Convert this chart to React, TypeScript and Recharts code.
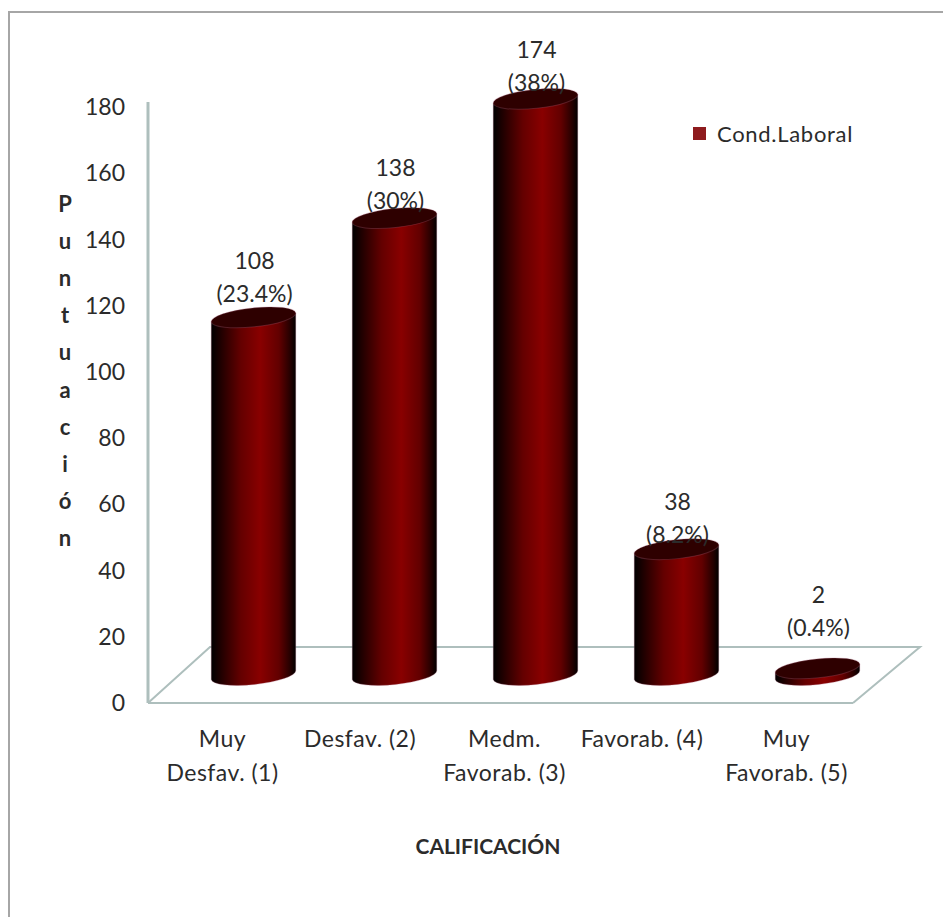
import React from "react";
import { BarChart, Bar, XAxis, YAxis, Legend, LabelList } from "recharts";

const categories = ["Muy Desfav. (1)", "Desfav. (2)", "Medm. Favorab. (3)", "Favorab. (4)", "Muy Favorab. (5)"];
const categoryLines = [["Muy", "Desfav. (1)"], ["Desfav. (2)"], ["Medm.", "Favorab. (3)"], ["Favorab. (4)"], ["Muy", "Favorab. (5)"]];
const puntuacion = [108, 138, 174, 38, 2];
const percents = ["23.4%", "30%", "38%", "8.2%", "0.4%"];
const yTicks = [0, 20, 40, 60, 80, 100, 120, 140, 160, 180];
const yTitle = ["P", "u", "n", "t", "u", "a", "c", "i", "ó", "n"];

const data = categories.map((name, i) => ({ name, value: puntuacion[i] }));

const WIDTH = 943;
const HEIGHT = 917;
const LEFT = 148;
const RIGHT = 853;
const TOP = 107;
const BOTTOM = 703;

// the 3D box: bars stand in the middle of the floor, the back edge sits further away
const DEPTH_X = 35;
const DEPTH_Y = 28;
const FONT = "Lato, 'Open Sans', sans-serif";
const TEXT = "#2b2b2b";
const WALL = "#aebfbd";
const TILT = 6;
const RY = 9.5;

// how far the percent line sits above each bar top
const labelLift = [24, 18, 17, 15, 41];

const Cylinder = (props: any) => {
  const { x, y, width, height } = props;
  const rx = width / 2;
  const cx = x + rx + DEPTH_X;
  const top = y - DEPTH_Y;
  const base = y + height - DEPTH_Y;
  const rad = (TILT * Math.PI) / 180;
  const dx = rx * Math.cos(rad);
  const dy = rx * Math.sin(rad);
  const side = `M ${cx - dx} ${top + dy} L ${cx - dx} ${base + dy} A ${rx} ${RY} ${-TILT} 0 0 ${cx + dx} ${base - dy} L ${cx + dx} ${top - dy} Z`;
  return (
    <g>
      <path d={side} fill="url(#cylinderSide)" stroke="#b06a80" strokeOpacity={0.3} strokeWidth={1} />
      <ellipse
        cx={cx}
        cy={top}
        rx={rx}
        ry={RY}
        fill="#2e0000"
        stroke="#a8607a"
        strokeOpacity={0.3}
        strokeWidth={1}
        transform={`rotate(${-TILT} ${cx} ${top})`}
      />
    </g>
  );
};

const BarLabel = (props: any) => {
  const { x, y, width, index } = props;
  const cx = x + width / 2 + DEPTH_X + 1;
  const lineY = y - DEPTH_Y - labelLift[index];
  return (
    <text x={cx} textAnchor="middle" fontFamily={FONT} fontSize={23} fill={TEXT} dominantBaseline="central">
      <tspan x={cx} y={lineY - 33}>{puntuacion[index]}</tspan>
      <tspan x={cx} y={lineY}>({percents[index]})</tspan>
    </text>
  );
};

const CategoryTick = (props: any) => {
  const { x, payload } = props;
  const lines = categoryLines[categories.indexOf(payload.value)] || [payload.value];
  // one-line categories sit a little further left than the wrapped ones
  const tx = lines.length === 1 ? x + 0.5 : x + 4;
  return (
    <text textAnchor="middle" fontFamily={FONT} fontSize={23} letterSpacing={0.5} fill={TEXT} dominantBaseline="central">
      {lines.map((line, i) => (
        <tspan key={i} x={tx} y={738 + i * 33.5}>{line}</tspan>
      ))}
    </text>
  );
};

const LegendBox = () => (
  <div style={{ display: "flex", alignItems: "center", fontFamily: FONT, fontSize: 22, color: TEXT }}>
    <span style={{ width: 13, height: 13, background: "#8e1b1e", marginRight: 11 }} />
    <span style={{ letterSpacing: 0.7 }}>Cond.Laboral</span>
  </div>
);

export default function App() {
  return (
    <div style={{ position: "absolute", left: 0, top: 0, width: WIDTH, height: HEIGHT, background: "#fff", overflow: "hidden" }}>
      {/* chart frame, cut off on the right and at the bottom */}
      <div
        style={{
          position: "absolute",
          left: 8,
          top: 11,
          width: WIDTH,
          height: HEIGHT,
          borderLeft: "2px solid #a6a6a6",
          borderTop: "2px solid #a6a6a6",
        }}
      />
      <div style={{ position: "absolute", left: 0, top: 0 }}>
        <BarChart
          width={WIDTH}
          height={HEIGHT}
          data={data}
          barSize={85}
          margin={{ top: TOP, right: WIDTH - RIGHT, bottom: 0, left: 0 }}
        >
          <defs>
            <linearGradient id="cylinderSide" x1="0" y1="0" x2="1" y2="0">
              <stop offset="0" stopColor="#000000" />
              <stop offset="0.1" stopColor="#1c0000" />
              <stop offset="0.35" stopColor="#640000" />
              <stop offset="0.58" stopColor="#890000" />
              <stop offset="0.8" stopColor="#620000" />
              <stop offset="0.94" stopColor="#220000" />
              <stop offset="1" stopColor="#000000" />
            </linearGradient>
          </defs>

          {/* floor and the stub of the wall above the last tick */}
          <polyline
            points={`${LEFT},${BOTTOM} ${LEFT + 62},${BOTTOM - 56} ${RIGHT + 67},${BOTTOM - 56} ${RIGHT},${BOTTOM}`}
            fill="none"
            stroke={WALL}
            strokeWidth={2}
          />
          <line x1={LEFT} y1={TOP - 5} x2={LEFT} y2={TOP} stroke={WALL} strokeWidth={3} />

          <XAxis
            dataKey="name"
            height={HEIGHT - BOTTOM}
            interval={0}
            tickLine={false}
            axisLine={{ stroke: WALL, strokeWidth: 2 }}
            tick={<CategoryTick />}
          />
          <YAxis
            width={LEFT}
            domain={[0, 180]}
            ticks={yTicks}
            tickLine={false}
            tickMargin={17}
            axisLine={{ stroke: WALL, strokeWidth: 3 }}
            tick={{ fontFamily: FONT, fontSize: 23, fill: TEXT }}
          />
          <Legend
            content={<LegendBox />}
            verticalAlign="middle"
            align="center"
            wrapperStyle={{ position: "absolute", left: 693, top: 120, width: 180, bottom: "auto" }}
          />
          <Bar dataKey="value" name="Cond.Laboral" fill="#8e1b1e" isAnimationActive={false} shape={<Cylinder />}>
            <LabelList dataKey="value" content={<BarLabel />} />
          </Bar>

          <text fontFamily={FONT} fontSize={22} fontWeight={700} fill={TEXT} textAnchor="middle" dominantBaseline="central">
            {yTitle.map((letter, i) => (
              <tspan key={i} x={65} y={203 + i * 37.1}>{letter}</tspan>
            ))}
          </text>
          <text x={488} y={845} fontFamily={FONT} fontSize={21} fontWeight={700} fill={TEXT} textAnchor="middle" dominantBaseline="central">
            CALIFICACIÓN
          </text>
        </BarChart>
      </div>
    </div>
  );
}
